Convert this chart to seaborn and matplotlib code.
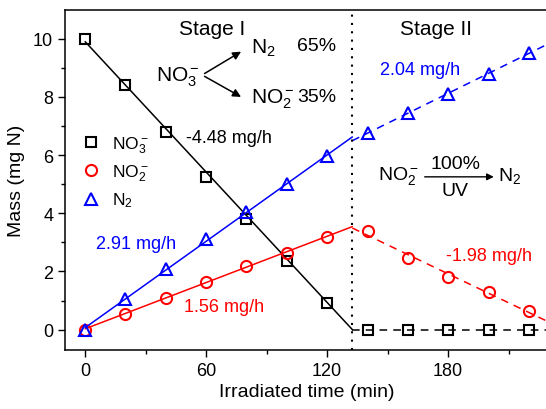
import numpy as np
import matplotlib
matplotlib.use("Agg")
import matplotlib.pyplot as plt
import seaborn as sns
from matplotlib.lines import Line2D

# data
time_stage1 = [0, 20, 40, 60, 80, 100, 120]
time_stage2 = [140, 160, 180, 200, 220]
no3_stage1 = [10.0, 8.4, 6.8, 5.25, 3.8, 2.35, 0.93]
no3_stage2 = [0.0, 0.0, 0.0, 0.0, 0.0]
no2_stage1 = [0.0, 0.55, 1.1, 1.65, 2.2, 2.65, 3.18]
no2_stage2 = [3.38, 2.45, 1.82, 1.28, 0.65]
n2_stage1 = [0.0, 1.05, 2.1, 3.1, 4.05, 5.0, 5.95]
n2_stage2 = [6.75, 7.45, 8.1, 8.8, 9.5]
t_switch = 132.5
x_max = 230

sns.set_style("ticks")
plt.rcParams["font.family"] = ["Liberation Sans", "DejaVu Sans"]
plt.rcParams["mathtext.fontset"] = "custom"
plt.rcParams["mathtext.rm"] = "Liberation Sans"
plt.rcParams["mathtext.it"] = "Liberation Sans:italic"
for key in ["text.color", "axes.labelcolor", "xtick.color", "ytick.color", "axes.edgecolor"]:
    plt.rcParams[key] = "black"

fig = plt.figure(figsize=(5.46, 4.10), dpi=100)
ax = fig.add_axes([65 / 546, 59 / 410, 484 / 546, 340.5 / 410])

series = [
    ("black", "s", 7, no3_stage1, no3_stage2, r"$\mathregular{NO_3^-}$"),
    ("red", "o", 8, no2_stage1, no2_stage2, r"$\mathregular{NO_2^-}$"),
    ("blue", "^", 9, n2_stage1, n2_stage2, r"$\mathregular{N_2}$"),
]

handles = []
for color, marker, ms, y1, y2, label in series:
    # linear fits for each stage
    fit1 = np.polyfit(time_stage1, y1, 1)
    fit2 = np.polyfit(time_stage2, y2, 1)
    xs1 = np.array([0, t_switch])
    xs2 = np.array([t_switch, x_max])
    sns.lineplot(x=xs1, y=np.maximum(np.polyval(fit1, xs1), 0), color=color, lw=1.1, ax=ax)
    sns.lineplot(x=xs2, y=np.maximum(np.polyval(fit2, xs2), 0), color=color, lw=1.1,
                 ax=ax, linestyle=(0, (5, 4)))
    for xs, ys in [(time_stage1, y1), (time_stage2, y2)]:
        sns.lineplot(x=xs, y=ys, ax=ax, marker=marker, linestyle="", markersize=ms,
                     markerfacecolor="none", markeredgecolor=color, markeredgewidth=1.5,
                     color=color)
    handles.append(Line2D([], [], marker=marker, linestyle="", markersize=ms,
                          markerfacecolor="none", markeredgecolor=color,
                          markeredgewidth=1.5, label=label))

ax.axvline(t_switch, color="black", linestyle=(0, (1, 3)), lw=1.5)

ax.set_xlim(-10, x_max)
ax.set_ylim(-0.7, 11)
ax.set_xticks([0, 60, 120, 180])
ax.set_xticks([30, 90, 150, 210], minor=True)
ax.set_yticks([0, 2, 4, 6, 8, 10])
ax.set_yticks([1, 3, 5, 7, 9], minor=True)
ax.tick_params(which="major", length=5, width=1, labelsize=13, direction="out")
ax.tick_params(which="minor", length=3, width=1, direction="out")
for sp in ax.spines.values():
    sp.set_linewidth(1.1)
ax.set_xlabel("Irradiated time (min)", fontsize=14, labelpad=3)
ax.set_ylabel("Mass (mg N)", fontsize=14, labelpad=6)

leg = ax.legend(handles=handles, loc="upper left", bbox_to_anchor=(0.0, 0.68),
                frameon=False, fontsize=12.5, handletextpad=0.6, labelspacing=0.45,
                handlelength=1.2)

# stage labels
ax.text(63, 10.35, "Stage I", fontsize=15, ha="center", va="center")
ax.text(174, 10.35, "Stage II", fontsize=15, ha="center", va="center")

# reaction scheme for stage I
ax.text(35, 8.7, r"$\mathregular{NO_3^-}$", fontsize=15, ha="left", va="center")
ax.annotate("", xy=(78.5, 9.6), xytext=(58, 8.75),
            arrowprops=dict(arrowstyle="-|>", color="black", lw=1.1, mutation_scale=12))
ax.annotate("", xy=(78.5, 7.95), xytext=(58, 8.75),
            arrowprops=dict(arrowstyle="-|>", color="black", lw=1.1, mutation_scale=12))
ax.text(82, 9.7, r"$\mathregular{N_2}$", fontsize=15, ha="left", va="center")
ax.text(82, 7.95, r"$\mathregular{NO_2^-}$", fontsize=15, ha="left", va="center")
ax.text(124.5, 9.75, "65%", fontsize=14, ha="right", va="center")
ax.text(124.5, 8.0, "35%", fontsize=14, ha="right", va="center")

# reaction scheme for stage II
ax.text(145, 5.3, r"$\mathregular{NO_2^-}$", fontsize=14, ha="left", va="center")
ax.annotate("", xy=(204, 5.25), xytext=(167, 5.25),
            arrowprops=dict(arrowstyle="-|>", color="black", lw=1.0, mutation_scale=10))
ax.text(183.5, 5.72, "100%", fontsize=14, ha="center", va="center")
ax.text(183.5, 4.78, "UV", fontsize=14, ha="center", va="center")
ax.text(204.5, 5.3, r"$\mathregular{N_2}$", fontsize=14, ha="left", va="center")

# rates
ax.text(50, 6.6, "-4.48 mg/h", fontsize=13, ha="left", va="center", color="black")
ax.text(146, 8.95, "2.04 mg/h", fontsize=13, ha="left", va="center", color="blue")
ax.text(5.5, 2.97, "2.91 mg/h", fontsize=13, ha="left", va="center", color="blue")
ax.text(49, 0.78, "1.56 mg/h", fontsize=13, ha="left", va="center", color="red")
ax.text(179, 2.55, "-1.98 mg/h", fontsize=13, ha="left", va="center", color="red")

fig.savefig("out.png", dpi=100)
